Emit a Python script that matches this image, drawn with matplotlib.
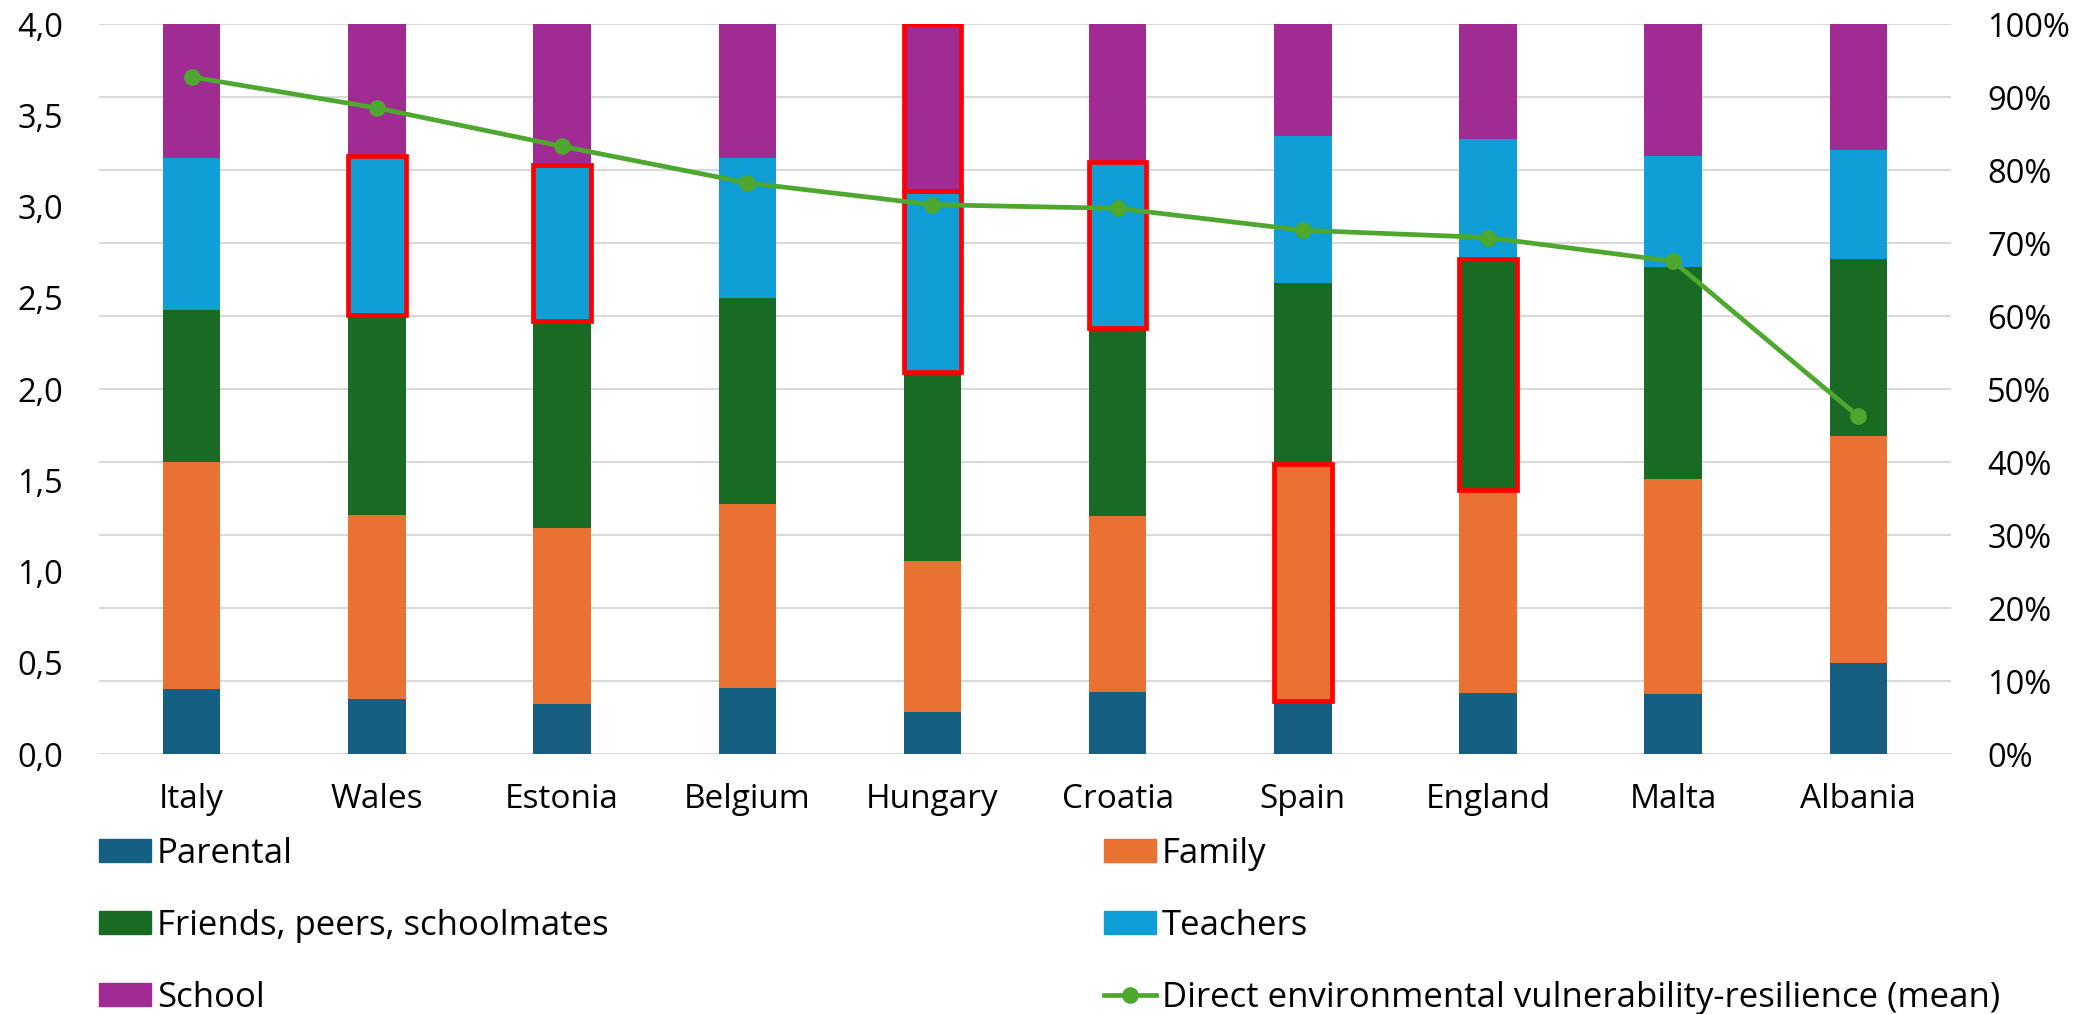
import numpy as np
import matplotlib
matplotlib.use("Agg")
from matplotlib import pyplot as plt
from matplotlib.ticker import FuncFormatter, MultipleLocator
from matplotlib.patches import Patch
from matplotlib.lines import Line2D

plt.rcParams['font.family'] = ['Open Sans', 'DejaVu Sans']

countries = ['Italy', 'Wales', 'Estonia', 'Belgium', 'Hungary',
             'Croatia', 'Spain', 'England', 'Malta', 'Albania']

# shares in percent (stacked to 100)
parental = [8.9, 7.6, 6.8, 9.0, 5.8, 8.5, 7.3, 8.4, 8.2, 12.5]
family = [31.1, 25.2, 24.1, 25.3, 20.6, 24.1, 32.4, 27.7, 29.5, 31.0]
friends = [20.8, 27.3, 28.4, 28.2, 25.9, 25.8, 24.8, 31.7, 29.0, 24.3]
teachers = [20.8, 21.8, 21.4, 19.2, 24.8, 22.7, 20.1, 16.5, 15.2, 15.0]
school = [18.4, 18.1, 19.3, 18.3, 22.9, 18.9, 15.4, 15.7, 18.1, 17.2]

# mean score (left axis)
mean_score = [3.71, 3.54, 3.33, 3.13, 3.01, 2.99, 2.87, 2.83, 2.70, 1.85]

series_names = ['Parental', 'Family', 'Friends, peers, schoolmates', 'Teachers', 'School']
line_name = 'Direct environmental vulnerability-resilience (mean)'
colors = ['#156082', '#E97132', '#196B24', '#0F9ED5', '#A02B93']
line_color = '#4EA72E'

# segments outlined in red: (country, series index)
highlights = [('Wales', 3), ('Estonia', 3), ('Hungary', 3), ('Hungary', 4),
              ('Croatia', 3), ('Spain', 1), ('England', 2)]

series = [parental, family, friends, teachers, school]
x = np.arange(len(countries))
width = 0.31
fs = 23.5

fig = plt.figure(figsize=(20.94, 10.14), dpi=100)
ax = fig.add_axes([0.0473, 0.2564, 0.8844, 0.7199])

bottoms = np.zeros(len(countries))
seg_bottoms = []
for vals, col in zip(series, colors):
    vals = np.array(vals)
    ax.bar(x, vals, width, bottom=bottoms, color=col, zorder=2)
    seg_bottoms.append(bottoms.copy())
    bottoms = bottoms + vals

for name, si in highlights:
    i = countries.index(name)
    ax.bar(x[i], series[si][i], width, bottom=seg_bottoms[si][i], fill=False,
           edgecolor='#FF0000', linewidth=3.4, zorder=3)

ax.set_ylim(0, 100)
ax.set_xlim(-0.5, 9.5)
ax.yaxis.set_major_locator(MultipleLocator(10))
ax.yaxis.set_major_formatter(FuncFormatter(lambda v, p: f'{v:.0f}%'))
ax.grid(axis='y', color='#D9D9D9', linewidth=1.5, zorder=0)
ax.set_axisbelow(True)
ax.set_xticks(x)
ax.set_xticklabels(countries)
ax.tick_params(axis='x', length=0, pad=21, labelsize=24)
for s in ax.spines.values():
    s.set_visible(False)

ax2 = ax.twinx()
ax2.plot(x, mean_score, color=line_color, linewidth=3.4, marker='o',
         markersize=11, zorder=5)
ax2.set_ylim(0, 4)
ax2.yaxis.set_major_locator(MultipleLocator(0.5))
ax2.yaxis.set_major_formatter(FuncFormatter(lambda v, p: f'{v:.1f}'.replace('.', ',')))
for s in ax2.spines.values():
    s.set_visible(False)

# swap sides: percent on right, mean on left
ax.yaxis.tick_right()
ax2.yaxis.tick_left()
ax.tick_params(axis='y', length=0, pad=26, labelsize=fs)
ax2.tick_params(axis='y', length=0, pad=26, labelsize=fs)

h = [Patch(color=c) for c in colors]
lh = Line2D([], [], color=line_color, linewidth=3.4, marker='o', markersize=11)

leg_kw = dict(frameon=False, fontsize=25, handlelength=1.5, handleheight=0.63,
              handletextpad=0.17, labelspacing=1.1, borderaxespad=0, borderpad=0)
fig.legend([h[0], h[2], h[4]], [series_names[0], series_names[2], series_names[4]],
           loc='upper left', bbox_to_anchor=(0.0473, 0.175), **leg_kw)
fig.legend([h[1], h[3], lh], [series_names[1], series_names[3], line_name],
           loc='upper left', bbox_to_anchor=(0.527, 0.175), **leg_kw)

fig.savefig('out.png', dpi=100)
